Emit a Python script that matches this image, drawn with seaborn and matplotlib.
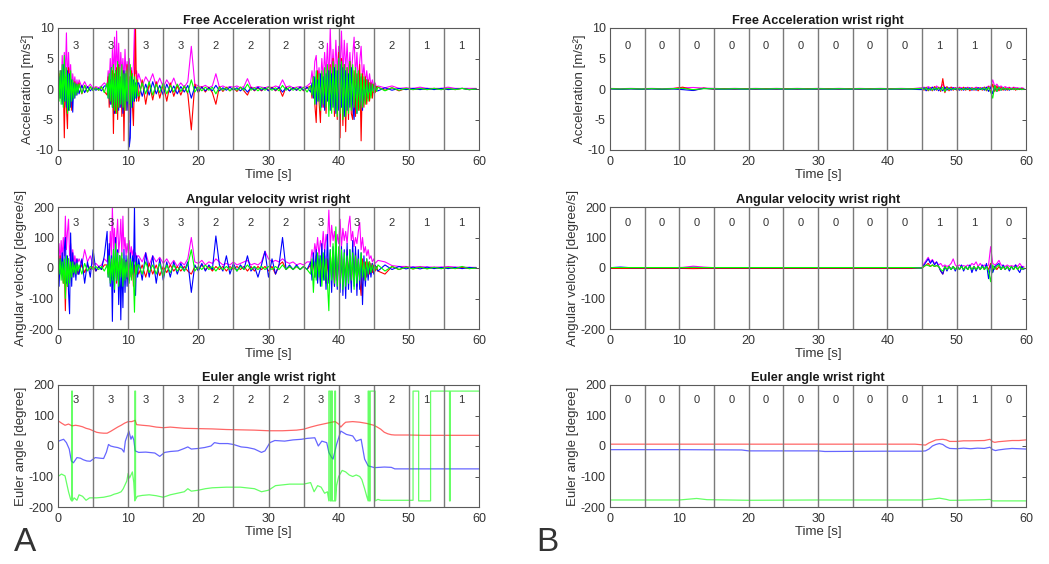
import numpy as np
import pandas as pd
import matplotlib
matplotlib.use("Agg")
import matplotlib.pyplot as plt
import seaborn as sns

# ---- segment annotations (5 s windows) ----
seg_bounds = [5, 10, 15, 20, 25, 30, 35, 40, 45, 50, 55]
seg_centers = [2.5, 7.5, 12.5, 17.5, 22.5, 27.5, 32.5, 37.5, 42.5, 47.5, 52.5, 57.5]
scores_a = [3, 3, 3, 3, 2, 2, 2, 3, 3, 2, 1, 1]
scores_b = [0, 0, 0, 0, 0, 0, 0, 0, 0, 1, 1, 0]

# ---- sample times (A: dense where the wrist moves, B: dense after 45 s) ----
t_a = np.concatenate([
    np.arange(20) * 0.15,          # 0 - 3 s
    3.0 + np.arange(10) * 0.4,     # 3 - 7 s
    7.0 + np.arange(30) * 0.15,    # 7 - 11.5 s
    11.5 + np.arange(49) * 0.5,    # 11.5 - 36 s
    36.0 + np.arange(48) * 0.2,    # 36 - 45.5 s
    45.6 + np.arange(15) * 1.0,    # 45.6 - 60 s
])
t_b = np.concatenate([np.arange(30) * 1.5, 45.0 + np.arange(50) * 0.3])

# ---- A: free acceleration [m/s^2] ----
acc_a_red = [
    -4.0, 2.5, -1.5, 3.0, -2.0, 1.5, -8.0, 2.0, -3.0, -6.5, 3.5, -2.5, 1.5, -3.5, 1.0, -1.5, 1.2, -1.0, 0.8, -0.6,
    1.0, -0.8, 0.6, -0.5, 0.3, -0.2, 0.2, -0.2, 0.3, -0.4,
    -1.0, 2.0, -3.0, 1.5, -2.5, 3.0, -7.3, 2.5, -4.0, 3.5, -5.0, 4.0, -3.0, 2.0, -4.5, 3.0, -8.5, 2.5, -3.5, 4.0,
    -3.0, 2.0, -5.5, 3.0, -2.5, -6.0, 2.0, 10.0, -2.0, 1.5,
    -2.0, 1.5, -2.5, 1.0, -1.8, 1.2, -1.5, 0.8, -2.0, 1.0, -1.2, 0.6, -1.0, 0.5, -0.8, -6.7, 0.8, -0.6, 0.4, -0.5,
    0.3, -0.6, -2.5, 0.4, -0.4, 0.3, -0.3, 0.2, -0.4, 0.3, -0.3, -1.0, 0.3, -0.3, 0.2, -0.3, 0.2, -0.2, 0.3, -0.3,
    0.2, -1.2, 0.3, -0.3, 0.2, -0.2, 0.3, -0.3, 0.2,
    0.5, -1.5, 2.0, -2.5, -5.5, 3.0, -2.0, -5.5, 2.5, -3.0, 2.0, -4.0, 3.5, -2.5, 4.0, -3.0, 5.0, -4.5, 3.0, -5.0,
    6.0, -8.0, 5.0, -6.0, 4.0, -7.0, 3.5, -5.0, 4.5, -4.0, -5.0, 3.0, -4.5, 2.5, -3.5, 4.0, -8.5, 2.5, -3.0, 2.0,
    -2.5, 1.5, -2.0, 1.0, -1.5, 0.8, -0.6, 0.4,
    0.3, -0.2, 0.2, -0.3, 0.1, -0.1, 0.1, -0.1, 0.1, -0.1, 0.1, -0.1, 0.1, -0.1, 0.0,
]
acc_a_mag = [
    4.5, -1.0, 3.0, -0.5, 5.5, 1.0, 6.0, 2.0, 9.2, 0.5, 6.0, 1.5, 4.0, -0.5, 2.5, 0.5, 2.0, 0.0, 1.5, 0.3,
    1.5, 0.3, 1.2, 0.2, 0.8, 0.1, 0.4, 0.2, 0.5, 1.0,
    0.5, 3.0, 1.0, 5.0, 0.5, 6.5, 2.0, 8.5, 1.0, 9.5, 2.0, 7.5, 1.5, 6.0, 2.5, 5.0, 1.0, 6.5, 2.0, 4.5,
    1.0, 5.0, 2.0, 3.5, 1.0, 4.0, 10.0, 2.5, 3.0, 1.5,
    2.5, 0.5, 2.0, 1.0, 2.5, 0.5, 1.8, 0.3, 1.5, 0.5, 1.8, 0.2, 1.0, 0.3, 1.2, 7.0, 0.8, 0.5, 0.3, 0.6,
    0.2, 0.5, 2.5, 0.3, 0.5, 0.2, 0.4, 0.3, 0.5, 0.2, 0.4, 1.7, 0.3, 0.2, 0.4, 0.3, 0.2, 0.4, 0.2, 0.5,
    0.3, 1.5, 0.3, 0.5, 0.2, 0.3, 0.4, 0.2, 0.5,
    1.0, 3.0, 0.5, 4.5, 5.5, 1.0, 3.5, 0.5, 5.0, 1.5, 6.0, 2.0, 7.5, 1.0, 10.0, 2.0, 6.5, 1.5, 8.0, 2.5,
    7.0, 3.0, 9.5, 2.0, 8.0, 3.0, 7.5, 2.0, 6.0, 1.5, 5.5, 8.5, 2.0, 6.0, 1.0, 4.5, 7.0, 1.5, 4.0, 1.0,
    3.0, 0.5, 2.5, 0.5, 1.5, 0.3, 1.0, 0.2,
    0.5, 0.2, 0.5, 0.1, 0.2, 0.1, 0.3, 0.1, 0.1, 0.1, 0.3, 0.1, 0.1, 0.1, 0.1,
]
acc_a_blue = [
    -3.0, 2.0, -1.5, 3.0, -2.5, 4.0, -2.0, 1.5, -3.0, 3.0, -3.5, 2.5, -3.0, 1.5, -3.8, 1.0, -1.5, 0.8, -1.0, 0.5,
    -0.8, 0.6, -0.6, 0.4, -0.3, 0.2, -0.2, 0.1, -0.3, 0.5,
    0.5, -1.5, 2.0, -2.5, 3.5, -3.0, 2.5, -4.0, 3.0, -2.5, 4.0, -3.5, 2.0, -3.0, 2.5, -4.0, 3.0, -2.0, 2.5, -3.5,
    1.5, -9.5, -8.0, 2.0, -3.0, 1.5, -2.0, 1.0, -1.5, 1.0,
    1.0, -1.2, 0.8, -1.0, 1.2, -0.8, 0.6, -1.0, 0.8, -0.6, 0.5, -0.8, 0.4, -0.5, 0.6, -1.5, 0.4, -0.4, 0.3, -0.3,
    0.2, -0.3, 0.6, -0.3, 0.2, -0.2, 0.3, -0.2, 0.2, -0.3, 0.2, -0.5, 0.2, -0.2, 0.3, -0.2, 0.2, -0.3, 0.2, -0.2,
    0.3, -0.5, 0.2, -0.3, 0.2, -0.2, 0.3, -0.2, 0.3,
    -0.5, 1.0, -1.5, 2.0, -2.5, 1.5, -2.0, 2.5, -3.0, 2.0, -3.5, 2.5, -2.0, 3.0, -3.5, 2.5, -3.0, 3.5, -4.0, 3.0,
    -3.5, 4.0, -3.0, 3.5, -4.5, 3.0, -3.5, 2.5, -3.0, 3.5, -2.5, -5.0, 3.0, -4.0, 2.5, -3.0, 2.0, -3.5, 1.5, -2.0,
    1.5, -1.5, 1.0, -1.0, 0.8, -0.6, 0.5, -0.3,
    -0.3, 0.2, -0.2, 0.1, -0.1, 0.1, -0.1, 0.1, -0.1, 0.1, -0.1, 0.0, 0.1, -0.1, 0.0,
]
acc_a_green = [
    2.5, -2.0, 3.0, -2.5, 4.0, -3.0, 5.5, -2.0, 3.5, -4.0, 2.5, -3.5, 3.0, -2.0, 1.5, -1.5, 1.0, -1.0, 0.8, -0.6,
    0.8, -0.7, 0.6, -0.5, 0.4, -0.3, 0.2, -0.2, 0.4, -0.6,
    1.0, -1.5, 2.5, -2.0, 3.5, -3.0, 4.0, -3.5, 3.0, -4.0, 4.5, -3.0, 3.5, -2.5, 4.0, -3.0, 2.5, -3.5, 3.0, -2.0,
    3.5, -2.5, 4.0, -3.0, 2.5, -2.0, 2.0, -1.5, 1.5, -1.0,
    -1.2, 1.0, -0.8, 1.2, -1.0, 0.8, -0.6, 1.0, -0.8, 0.6, -0.5, 0.8, -0.4, 0.5, -0.6, 1.5, -0.5, 0.4, -0.3, 0.3,
    -0.2, 0.3, -0.8, 0.3, -0.2, 0.2, -0.3, 0.2, -0.2, 0.3, -0.2, 0.8, -0.2, 0.2, -0.3, 0.2, -0.2, 0.3, -0.2, 0.2,
    -0.3, 0.6, -0.2, 0.3, -0.2, 0.2, -0.3, 0.3, -0.5,
    0.5, -1.0, 2.0, -2.5, 3.0, -2.0, 2.5, -3.5, 3.0, -2.5, 3.5, -3.0, 4.0, -4.5, 3.5, -4.0, 4.5, -3.5, 4.0, -4.5,
    5.0, -4.0, 4.5, -5.0, 4.0, -4.5, 3.5, -4.0, 4.5, -3.5, 4.0, -3.0, 3.5, -4.0, 3.0, -3.5, 2.5, -3.0, 2.0, -2.5,
    1.5, -2.0, 1.0, -1.5, 0.8, -0.6, 0.5, -0.4,
    0.3, -0.3, 0.2, -0.2, 0.1, -0.1, 0.1, -0.1, 0.1, -0.1, 0.1, -0.1, 0.1, -0.1, 0.0,
]

# ---- A: angular velocity [degree/s] ----
gyr_a_red = [
    20, -30, 40, -20, 30, -50, 10, -140, 20, -60, 30, -40, 20, -30, 10, -20, 15, -10, 10, -20,
    -10, 10, -15, 10, -5, 5, -10, 5, -5, 10,
    10, -20, 30, -40, 20, -30, 40, -20, 30, -50, 20, -30, 40, -20, 30, -40, 20, -30, 25, -35,
    20, -40, 15, -30, 20, -60, 10, -20, 15, -10,
    -20, 10, -30, 15, -20, 10, -25, 5, -15, 10, -10, 5, -10, 5, -10, -20, 5, -5, 10, -5,
    5, -10, 5, -5, 5, -10, 5, -5, 5, -5, 5, -10, 5, -10, 5, -5, 5, -10, 5, -20,
    10, 20, -5, 5, -5, 5, -5, 5, -5,
    10, -20, 30, -30, 40, -20, 30, -40, 20, -30, 40, -50, 30, -40, 50, -30, 40, -60, 30, -40,
    50, -50, 40, -60, 30, -40, 60, -30, 40, -50, 30, -40, 50, -60, 30, -40, -90, 30, -40, 20,
    -30, 20, -20, 15, -15, 10, -10, 5,
    -10, -20, 5, -5, 3, -3, 2, -2, 2, -2, 2, -2, 2, -2, 0,
]
gyr_a_mag = [
    60, 80, 20, 90, 30, 100, 40, 170, 60, 120, 160, 40, 80, 20, 60, 10, 40, 15, 30, 20,
    30, 10, 60, 20, 40, 10, 15, 5, 10, 30,
    20, 60, 30, 120, 40, 200, 60, 130, 40, 100, 160, 50, 90, 160, 40, 170, 60, 100, 40, 80,
    50, 90, 30, 70, 40, 60, 20, 50, 30, 40,
    40, 20, 50, 10, 40, 20, 35, 15, 30, 10, 25, 5, 20, 10, 30, 100, 20, 15, 25, 10,
    20, 15, 30, 20, 10, 15, 10, 20, 10, 15, 20, 25, 10, 15, 10, 20, 55, 30, 20, 25,
    20, 30, 20, 15, 20, 10, 15, 10, 20,
    20, 60, 30, 80, 50, 100, 40, 90, 60, 120, 50, 110, 80, 190, 70, 140, 90, 120, 60, 110,
    80, 160, 70, 130, 90, 120, 80, 140, 170, 90, 120, 70, 100, 80, 120, 150, 60, 100, 50, 70,
    40, 60, 30, 40, 20, 30, 15, 20,
    25, 20, 8, 5, 5, 3, 5, 3, 3, 3, 5, 3, 3, 2, 2,
]
gyr_a_blue = [
    10, -60, 30, -20, 50, -40, 60, 100, -50, 40, -80, -150, 115, -60, 50, -30, 20, -40, 30, -20,
    -20, 30, -50, 20, -30, 60, -10, 5, -5, 40,
    120, -30, 80, -60, 40, -175, 60, -80, 100, -40, 60, -120, 40, -170, 30, -130, 60, -80, 40, -60,
    30, -40, 50, -30, 40, -20, 200, -90, 40, -30,
    30, -40, 50, -30, 40, -50, 30, -40, 20, -30, 20, -20, 15, -10, 20, -80, 10, -10, 15, -10,
    10, -5, 105, 10, -10, 40, -20, 15, -10, 10, -5, 40, -10, 5, -30, 10, 55, -30, 30, -20,
    10, 100, -5, 10, -5, 10, -5, 5, -5,
    20, -40, 50, -30, 60, -50, 40, -60, 80, -40, 60, -70, 110, -50, 60, -80, 70, -60, 90, -70,
    60, -80, 70, -90, 60, -100, 80, -70, 60, -80, 90, -60, 70, -90, 60, -70, 50, -120, 40, -60,
    30, -40, 20, -30, 15, -20, 10, -5,
    -10, 10, -5, 5, -3, 3, -3, 3, -2, 2, -2, 2, -2, 2, 0,
]
gyr_a_green = [
    40, -20, 30, -40, 20, -50, 30, -100, 40, -60, 30, -50, 20, -30, 20, -15, 10, -20, 15, -10,
    10, -20, 15, -10, 5, -5, 5, -5, 5, -10,
    10, -30, 40, -50, 30, -40, 60, -70, 80, -40, 50, -60, 40, -30, 50, -60, 30, -40, 20, -30,
    40, -50, 30, -40, 20, -30, -145, 20, -20, 10,
    10, -20, 20, -15, 10, -20, 15, -30, 10, -15, 10, -10, 5, -10, 10, 60, -10, 5, -5, 10,
    -5, 5, -10, 5, -5, 5, -5, 5, -10, 5, -5, 10, -5, 5, -5, 5, -5, 5, -5, 5,
    -5, 10, -5, 5, -5, 5, -5, 5, -5,
    -20, 30, -80, 20, -40, 50, -30, 40, -60, 50, -40, 30, -50, -140, 60, -40, 80, -50, 135, -60,
    70, -50, 60, -70, 50, -60, 40, -50, 60, -40, 50, -70, 40, -50, 30, -40, 50, -30, 20, -40,
    30, -20, 20, -15, 10, -10, 5, -5,
    10, -10, 5, -5, 3, -3, 3, -3, 2, -2, 2, -2, 5, -2, 0,
]

# ---- A: Euler angles [degree] ----
eul_a_red_t = [0, 0.5, 1, 1.5, 2, 2.5, 3, 3.5, 4, 4.5, 5, 5.5, 6, 6.5, 7, 7.5, 8, 8.5, 9, 9.5, 10, 10.5, 11,
               11.2, 12, 13, 14, 15, 16, 18, 20, 22, 24, 26, 28, 30, 32, 34, 35, 36, 37, 38, 39, 39.5, 40,
               40.3, 40.7, 41, 42, 43, 44, 45, 45.5, 46, 46.5, 47, 47.5, 48, 50, 52, 55, 58, 60]
eul_a_red = [83, 75, 68, 72, 66, 68, 66, 63, 58, 55, 50, 45, 43, 42, 42, 48, 55, 62, 68, 75, 80, 80, 84,
             70, 68, 66, 62, 60, 62, 58, 57, 56, 54, 53, 52, 50, 50, 52, 55, 62, 68, 73, 78, 80, 72,
             62, 72, 78, 80, 78, 74, 68, 62, 55, 45, 40, 37, 36, 36, 35, 35, 35, 35]
eul_a_blue_t = [0, 0.3, 0.8, 1.2, 1.6, 1.9, 2.2, 2.7, 3.2, 3.6, 4.1, 4.6, 5.3, 6.0, 6.5, 6.9, 7.2, 7.5, 8.0,
                8.5, 9.1, 9.4, 9.6, 10.1, 10.4, 10.6, 10.8, 11.0, 11.5, 12.5, 13.8, 14.5, 15.2, 16.0,
                17.1, 18.0, 18.5, 19.0, 20.0, 20.9, 21.8, 22.3, 23.0, 24.2, 25.0, 26.1, 27.0, 28.0, 29.0,
                29.5, 30.2, 30.9, 32.3, 33.5, 34.7, 35.5, 36.6, 37.1, 37.6, 38.3, 38.6, 39.0, 39.2, 39.7,
                40.3, 41.1, 42.0, 42.5, 43.2, 43.7, 44.2, 45.1, 46.5, 47.5, 48.0, 50.0, 55.0, 60.0]
eul_a_blue = [15, 18, 22, 11, -10, -49, -55, -38, -40, -45, -49, -50, -38, -40, -41, -20, 5, 0, -3,
              -5, -10, -20, 16, 49, 22, 33, 20, -16, -21, -20, -23, -34, -21, -18,
              -16, -8, -3, -10, -8, -5, 0, 11, 8, 8, 5, -3, -5, -10, -21,
              -16, 11, 18, 16, 20, 22, 25, 27, 0, 16, 11, -21, -38, -43, 5,
              49, 38, 33, 16, 22, -43, -65, -71, -69, -70, -75, -75, -75, -75]
eul_a_green_t = [0, 0.5, 1.0, 1.5, 1.8, 1.95, 1.95, 2.05, 2.05, 2.3, 2.7, 3.0, 3.5, 4.0, 4.5, 5.5, 6.5, 7.5,
                 8.0, 8.5, 9.0, 9.3, 9.6, 9.8, 10.0, 10.2, 10.4, 10.6, 10.8, 10.95, 10.95, 11.05, 11.05,
                 11.3, 12, 13, 14, 15, 16, 17, 18, 18.5, 19, 20, 21, 22, 24, 26, 28, 29, 30, 31, 33, 35,
                 36, 36.5, 37, 37.5, 38, 38.4, 38.6, 38.6, 38.8, 38.8, 38.95, 38.95, 39.1, 39.1, 39.45,
                 39.45, 39.55, 39.55, 39.7, 40.0, 40.5, 41, 41.5, 42, 42.5, 43, 43.3, 43.7, 44.0, 44.2,
                 44.2, 44.35, 44.35, 44.5, 44.5, 45.2, 45.2, 45.6, 46, 50.6, 50.6, 51.4, 51.4, 53.1, 53.1,
                 55.8, 55.8, 55.9, 55.9, 60]
eul_a_green = [-100, -92, -98, -150, -175, -180, 180, 180, -180, -170, -178, -160, -165, -178, -170, -170,
               -168, -163, -158, -155, -150, -140, -125, -115, -90, -105, -95, -85, -120, -180, 180, 180,
               -175, -165, -162, -160, -163, -168, -160, -155, -150, -140, -148, -145, -140, -137, -135,
               -135, -140, -150, -145, -130, -125, -125, -120, -150, -130, -135, -155, -150, -180, 180,
               180, -180, -180, 180, 180, -180, -180, 180, 180, -180, -130, -100, -80, -85, -95, -100,
               -95, -100, -110, -140, -165, -180, 180, 180, -180, -180, 180, 180, -180, -175, -178, -178,
               180, 180, -180, -180, 180, 180, -180, -180, 180, 180]

# ---- B: free acceleration [m/s^2] ----
acc_b_red = [
    0.05, -0.05, 0.05, -0.05, 0.05, -0.05, 0.05, 0.3, -0.2, 0.15, -0.05, 0.05, -0.05, 0.05, -0.05,
    0.05, -0.05, 0.05, -0.05, 0.05, -0.05, 0.05, -0.05, 0.05, -0.05, 0.05, -0.05, 0.05, -0.05, 0.05,
    0.1, -0.2, 0.3, -0.3, 0.2, -0.3, 0.4, -0.2, 0.3, -0.4, 1.7, -0.6, 0.4, -0.3, 0.3, -0.2, 0.2, -0.3, 0.2, -0.2,
    0.3, -0.2, 0.2, -0.3, 0.2, -0.2, 0.2, -0.3, 0.2, -0.2, 0.3, -0.3, 0.4, -0.5, 0.8, -0.4, 0.5, -0.3, 0.3, -0.2,
    0.2, -0.2, 0.2, -0.1, 0.2, -0.2, 0.1, -0.1, 0.1, -0.1,
]
acc_b_mag = [
    0.1, 0.05, 0.1, 0.05, 0.1, 0.05, 0.1, 0.2, 0.25, 0.15, 0.1, 0.05, 0.1, 0.05, 0.1,
    0.05, 0.1, 0.05, 0.1, 0.05, 0.1, 0.05, 0.1, 0.05, 0.1, 0.05, 0.1, 0.05, 0.1, 0.05,
    0.2, 0.3, 0.1, 0.4, 0.2, 0.3, 0.1, 0.5, 0.2, 0.3, 0.8, 0.2, 0.3, 0.1, 0.3, 0.2, 0.2, 0.1, 0.3, 0.2,
    0.2, 0.1, 0.3, 0.1, 0.2, 0.1, 0.3, 0.2, 0.2, 0.1, 0.3, 0.2, 0.5, 0.3, 1.5, 0.4, 0.8, 0.3, 0.5, 0.2,
    0.4, 0.2, 0.3, 0.1, 0.3, 0.2, 0.2, 0.1, 0.2, 0.1,
]
acc_b_blue = [
    0.0, -0.05, 0.0, -0.05, 0.0, -0.05, 0.0, -0.1, -0.25, 0.1, 0.0, -0.05, 0.0, -0.05, 0.0,
    -0.05, 0.0, -0.05, 0.0, -0.05, 0.0, -0.05, 0.0, -0.05, 0.0, -0.05, 0.0, -0.05, 0.0, -0.05,
    -0.1, 0.2, -0.3, 0.2, -0.2, 0.3, -0.2, 0.2, -0.3, 0.2, -0.3, 0.3, -0.2, 0.2, -0.2, 0.2, -0.1, 0.2, -0.2, 0.1,
    -0.2, 0.2, -0.1, 0.2, -0.2, 0.1, -0.2, 0.2, -0.1, 0.2, -0.2, 0.3, -0.4, 0.3, -0.8, 0.5, -0.4, 0.3, -0.2, 0.2,
    -0.2, 0.1, -0.2, 0.1, -0.1, 0.1, -0.1, 0.1, -0.1, 0.0,
]
acc_b_green = [
    0.05, 0.0, 0.05, 0.0, 0.05, 0.0, 0.05, 0.1, -0.1, 0.05, 0.05, 0.0, 0.05, 0.0, 0.05,
    0.0, 0.05, 0.0, 0.05, 0.0, 0.05, 0.0, 0.05, 0.0, 0.05, 0.0, 0.05, 0.0, 0.05, 0.0,
    0.1, -0.1, 0.2, -0.2, 0.1, -0.2, 0.2, -0.1, 0.2, -0.2, 0.3, -0.4, 0.2, -0.1, 0.1, -0.1, 0.1, -0.1, 0.1, -0.1,
    0.1, -0.1, 0.1, -0.1, 0.1, -0.1, 0.1, -0.1, 0.1, -0.1, 0.2, -0.2, 0.3, -0.5, -1.5, 0.6, -0.4, 0.3, -0.2, 0.2,
    -0.1, 0.1, -0.1, 0.1, -0.1, 0.1, -0.1, 0.1, -0.1, 0.0,
]

# ---- B: angular velocity [degree/s] ----
gyr_b_red = [
    -1.5, -1.5, -1.5, -1.5, -1.5, -1.5, -1.5, -1.5, -2, -1.5, -1.5, -1.5, -1.5, -1.5, -1.5,
    -1.5, -1.5, -1.5, -1.5, -1.5, -1.5, -1.5, -1.5, -1.5, -1.5, -1.5, -1.5, -1.5, -1.5, -1.5,
    0, 5, 10, 15, 5, 10, 5, 8, 5, -10, -20, 5, -5, 5, -5, 5, -5, 5, -5, 5,
    -5, 5, -5, 5, -5, 5, -5, 5, -5, 5, -5, 5, -5, 15, -10, 5, -5, 5, -5, 5,
    -5, 5, -5, 5, -5, 5, -5, 5, -5, 0,
]
gyr_b_mag = [
    1, 1, 1, 1, 1, 1, 1, 2, 6, 3, 1, 1, 1, 1, 1,
    1, 1, 1, 1, 1, 1, 1, 1, 1, 1, 1, 1, 1, 1, 1,
    0, 15, 25, 35, 20, 28, 15, 20, 10, 15, 5, 10, 5, 8, 15, 30, 10, 5, 10, 5,
    8, 5, 10, 5, 15, 10, 20, 5, 15, 5, 10, 5, 10, 70, 15, 10, 15, 25, 10, 8,
    5, 10, 5, 8, 5, 10, 5, 15, 5, 5,
]
gyr_b_blue = [
    1, 3, 1, 1, 1, 1, 1, 1, 2, 1, 1, 1, 1, 1, 1,
    1, 1, 1, 1, 1, 1, 1, 1, 1, 1, 1, 1, 1, 1, 1,
    0, 10, 20, 30, 15, 25, 10, 20, 5, -10, -20, 5, -10, 5, -5, 5, -10, 5, -5, 10,
    -10, 5, -5, 10, -15, 5, -10, 5, -5, 10, -5, 15, -35, 10, -15, 5, 10, 15, -5, 10,
    -5, 5, -10, 5, -5, 10, -5, -15, 5, -5,
]
gyr_b_green = [
    1.5, 1.5, 1.5, 1.5, 1.5, 1.5, 1.5, 1.5, 2, 1.5, 1.5, 1.5, 1.5, 1.5, 1.5,
    1.5, 1.5, 1.5, 1.5, 1.5, 1.5, 1.5, 1.5, 1.5, 1.5, 1.5, 1.5, 1.5, 1.5, 1.5,
    0, 5, 10, 8, 5, 10, 5, 8, 5, -5, -10, 5, -5, 5, -5, 5, -5, 5, -5, 5,
    -5, 5, -5, 5, -5, 5, -5, 5, -5, 5, -5, 5, -10, -45, 10, -5, 5, 10, -5, 5,
    -5, 5, -5, 5, -5, 5, -5, 5, -5, 0,
]

# ---- B: Euler angles [degree] ----
eul_b_red_t = [0, 10, 20, 30, 44, 45, 45.5, 46, 47, 48, 48.5, 49, 50, 51, 52, 54, 54.8, 55.2, 55.5, 56, 57,
               58, 59, 60]
eul_b_red = [6, 6, 6, 6, 6, 4, 3, 10, 20, 22, 20, 15, 15, 17, 17, 18, 22, 14, 12, 14, 16, 18, 18, 20]
eul_b_blue_t = [0, 10, 19, 20, 30, 31, 40, 45, 45.5, 46, 46.5, 47, 47.5, 48, 48.5, 49, 50, 51, 52, 53, 54,
                54.8, 55.2, 55.6, 56, 57, 58, 59, 60]
eul_b_blue = [-12, -12, -13, -16, -16, -18, -17, -17, -16, -10, 0, 5, 8, 5, -3, -8, -9, -7, -9, -7, -8,
              -4, -12, -15, -13, -10, -8, -9, -10]
eul_b_green_t = [0, 10, 12.5, 14, 20, 30, 40, 45, 46.5, 47.5, 48.5, 49, 50, 54, 54.8, 55.2, 56, 60]
eul_b_green = [-177, -177, -172, -176, -178, -177, -177, -177, -174, -171, -175, -178, -178, -176, -175,
               -180, -180, -180]

RED, MAG, BLUE, GREEN = "#ff0000", "#ff00ff", "#0000ff", "#00ff00"
TXT = "#333333"

sns.set_style("white")
plt.rcParams["font.family"] = ["Liberation Sans", "DejaVu Sans"]
plt.rcParams["axes.unicode_minus"] = False


def style_axes(ax, ylim, yticks, ylabel, title, scores, label_y):
    for x in seg_bounds:
        ax.axvline(x, color="#7a7a7a", lw=1.0, zorder=5)
    for c, s in zip(seg_centers, scores):
        ax.text(c, label_y, str(s), ha="center", va="center", fontsize=8, color=TXT, zorder=6)
    ax.set_xlim(0, 60)
    ax.set_ylim(*ylim)
    ax.set_xticks(range(0, 61, 10))
    ax.set_yticks(yticks)
    ax.tick_params(direction="in", top=True, right=True, length=3, width=0.6,
                   labelsize=9, colors=TXT)
    ax.tick_params(axis="x", pad=4)
    ax.tick_params(axis="y", pad=3)
    for sp in ax.spines.values():
        sp.set_color("#5a5a5a")
        sp.set_linewidth(0.8)
        sp.set_zorder(7)
    ax.set_title(title, fontsize=9.2, fontweight="bold", color="#1a1a1a", pad=3)
    ax.set_xlabel("Time [s]", fontsize=9.5, color=TXT, labelpad=1)
    ax.set_ylabel(ylabel, fontsize=9.5, color=TXT, labelpad=1)


def draw_lines(ax, series, lw=0.8, alpha=1.0):
    for t, v, col in series:
        df = pd.DataFrame({"t": t, "v": v})
        sns.lineplot(data=df, x="t", y="v", color=col, lw=lw, alpha=alpha,
                     estimator=None, sort=False, ax=ax)


fig = plt.figure(figsize=(10.49, 5.64), dpi=100)
col_x = [(58 / 1049, 421 / 1049), (610 / 1049, 416 / 1049)]
row_y = [1 - 150 / 564, 1 - 329 / 564, 1 - 507 / 564]
h = 122 / 564

panels = {
    "A": dict(
        acc=[(t_a, acc_a_mag, MAG), (t_a, acc_a_red, RED), (t_a, acc_a_blue, BLUE), (t_a, acc_a_green, GREEN)],
        gyr=[(t_a, gyr_a_mag, MAG), (t_a, gyr_a_red, RED), (t_a, gyr_a_blue, BLUE), (t_a, gyr_a_green, GREEN)],
        eul=[(eul_a_red_t, eul_a_red, RED), (eul_a_blue_t, eul_a_blue, BLUE), (eul_a_green_t, eul_a_green, GREEN)],
        scores=scores_a),
    "B": dict(
        acc=[(t_b, acc_b_mag, MAG), (t_b, acc_b_red, RED), (t_b, acc_b_blue, BLUE), (t_b, acc_b_green, GREEN)],
        gyr=[(t_b, gyr_b_mag, MAG), (t_b, gyr_b_red, RED), (t_b, gyr_b_blue, BLUE), (t_b, gyr_b_green, GREEN)],
        eul=[(eul_b_red_t, eul_b_red, RED), (eul_b_blue_t, eul_b_blue, BLUE), (eul_b_green_t, eul_b_green, GREEN)],
        scores=scores_b),
}

for (name, p), (x0, w) in zip(panels.items(), col_x):
    ax1 = fig.add_axes([x0, row_y[0], w, h])
    draw_lines(ax1, p["acc"])
    style_axes(ax1, (-10, 10), [-10, -5, 0, 5, 10], "Acceleration [m/s²]",
               "Free Acceleration wrist right", p["scores"], 7)

    ax2 = fig.add_axes([x0, row_y[1], w, h])
    draw_lines(ax2, p["gyr"])
    style_axes(ax2, (-200, 200), [-200, -100, 0, 100, 200], "Angular velocity [degree/s]",
               "Angular velocity wrist right", p["scores"], 148)

    ax3 = fig.add_axes([x0, row_y[2], w, h])
    draw_lines(ax3, p["eul"], lw=0.9, alpha=0.6)
    style_axes(ax3, (-200, 200), [-200, -100, 0, 100, 200], "Euler angle [degree]",
               "Euler angle wrist right", p["scores"], 150)

fig.text(14 / 1049, 6 / 564, "A", fontsize=24, color="#333333", ha="left", va="bottom")
fig.text(536 / 1049, 6 / 564, "B", fontsize=24, color="#333333", ha="left", va="bottom")

fig.savefig("out.png", dpi=100)
